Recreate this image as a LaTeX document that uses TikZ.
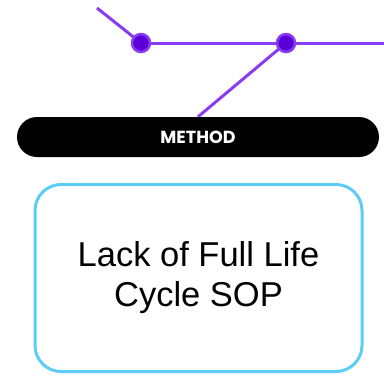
\documentclass[tikz,border=0pt]{standalone}
\usepackage{fontspec}
\setmainfont{Liberation Sans}
\newfontfamily\headfont{Poppins}
\usetikzlibrary{backgrounds}
\definecolor{violetline}{HTML}{8A3CF5}
\definecolor{violetdot}{HTML}{5A00D6}
\definecolor{skyedge}{HTML}{5CCDF7}
\tikzstyle{joint}=[circle,fill=violetdot,draw=violetline,line width=2.5pt,minimum size=18pt,inner sep=0pt]
\tikzstyle{track}=[violetline,line width=3pt]
\tikzstyle{banner}=[fill=black,rounded corners=20pt,minimum width=362pt,minimum height=40pt,inner sep=0pt,text=white,font=\headfont\bfseries\fontsize{17.5}{17.5}\selectfont]
\tikzstyle{cause}=[draw=skyedge,line width=3pt,rounded corners=26pt,minimum width=327pt,minimum height=187pt,align=center,font=\fontsize{34.5}{40}\selectfont]

\begin{document}
\begin{tikzpicture}[x=1pt,y=-1pt]
			\useasboundingbox (0,0) rectangle (384,376);
			%The track ends
			\coordinate (tail) at (97,8);
			\coordinate (head) at (384,43);
			%The joints on the spine
			\foreach \pos/\name in {{(141,43)/jointa}, {(286,43)/jointb}}
			\node[joint] (\name) at \pos {};
			%Category bar and cause box
			\node[banner] (method) at (198,137) {METHOD};
			\node[cause] (sop) at (198.5,278) {Lack of Full Life\\Cycle SOP};
			%Connecting the tracks
			\begin{scope}[on background layer]
			\draw[track] (tail) -- (jointa.center);
			\draw[track] (jointa) -- (jointb);
			\draw[track] (jointb) -- (head);
			\draw[track] (jointb.center) -- (method.north);
			\end{scope}
		\end{tikzpicture}
\end{document}
